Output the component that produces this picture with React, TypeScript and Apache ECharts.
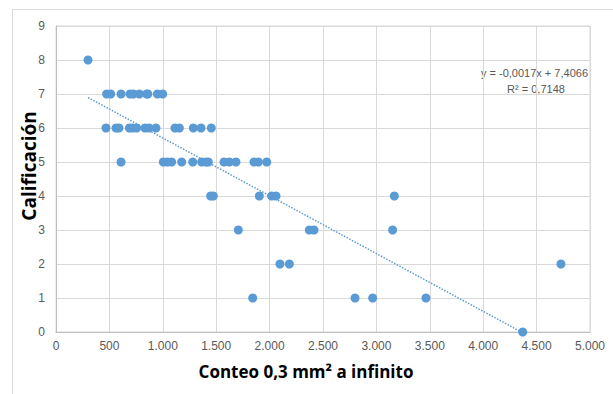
import React, { useEffect, useRef } from "react";
import * as echarts from "echarts";

// Conteo 0,3 mm² a infinito (x) vs Calificación (y)
const xValues: number[] = [
  300,
  474, 512, 609, 693, 724, 780, 849, 860, 949, 999,
  468, 562, 590, 687, 718, 755, 833, 871, 936, 1114, 1155, 1286, 1358, 1454,
  609, 1005, 1042, 1083, 1177, 1280, 1364, 1404, 1426, 1573, 1623, 1685, 1854, 1894, 1973,
  1448, 1473, 1904, 2019, 2060, 3168,
  1707, 2372, 2416, 3152,
  2097, 2185, 4728,
  1842, 2800, 2965, 3464,
  4370,
];
const yValues: number[] = [
  8,
  7, 7, 7, 7, 7, 7, 7, 7, 7, 7,
  6, 6, 6, 6, 6, 6, 6, 6, 6, 6, 6, 6, 6, 6,
  5, 5, 5, 5, 5, 5, 5, 5, 5, 5, 5, 5, 5, 5, 5,
  4, 4, 4, 4, 4, 4,
  3, 3, 3, 3,
  2, 2, 2,
  1, 1, 1, 1,
  0,
];
// Linear trendline coefficients shown on the chart
const slope = -0.0017;
const intercept = 7.4066;
const xTicks = { min: 0, max: 5000, interval: 500 };
const yTicks = { min: 0, max: 9, interval: 1 };
const xTitle = "Conteo 0,3 mm² a infinito";
const yTitle = "Calificación";

export default function App() {
  const ref = useRef<HTMLDivElement>(null);
  useEffect(() => {
    if (!ref.current) return;
    const chart = echarts.init(ref.current, undefined, { renderer: "svg" });
    const points = xValues.map((x, i) => [x, yValues[i]]);
    const minX = Math.min(...xValues);
    const xAtZero = -intercept / slope;
    const trend = [
      [minX, intercept + slope * minX],
      [xAtZero, 0],
    ];
    const font = "'Liberation Sans Narrow', 'Arial Narrow', 'Liberation Sans', sans-serif";
    const titleFont = "'Open Sans', 'Liberation Sans', sans-serif";
    chart.setOption({
      animation: false,
      grid: {
        left: 56,
        top: 26,
        right: 23,
        bottom: 62,
        show: true,
        borderColor: "#D9D9D9",
        borderWidth: 1,
      },
      xAxis: {
        type: "value",
        min: xTicks.min,
        max: xTicks.max,
        interval: xTicks.interval,
        axisLine: { show: true, lineStyle: { color: "#BFBFBF" } },
        axisTick: { show: false },
        splitLine: { show: true, lineStyle: { color: "#D9D9D9" } },
        axisLabel: {
          color: "#595959",
          fontSize: 12,
          fontFamily: font,
          margin: 8,
          formatter: (v: number) =>
            v >= 1000 ? `${Math.floor(v / 1000)}.${String(v % 1000).padStart(3, "0")}` : String(v),
        },
      },
      yAxis: {
        type: "value",
        min: yTicks.min,
        max: yTicks.max,
        interval: yTicks.interval,
        axisLine: { show: true, lineStyle: { color: "#BFBFBF" } },
        axisTick: { show: false },
        splitLine: { show: true, lineStyle: { color: "#D9D9D9" } },
        axisLabel: {
          color: "#595959",
          fontSize: 12,
          fontFamily: font,
          margin: 11,
        },
      },
      series: [
        {
          type: "line",
          data: trend,
          symbol: "none",
          z: 1,
          clip: true,
          lineStyle: { color: "#5B9BD5", width: 1.5, type: [1.5, 1.5] },
        },
        {
          type: "scatter",
          data: points,
          symbol: "circle",
          symbolSize: 9,
          z: 2,
          itemStyle: { color: "#5B9BD5", opacity: 1 },
        },
      ],
      graphic: [
        {
          type: "line",
          shape: { x1: 12.5, y1: 9.5, x2: 613, y2: 9.5 },
          style: { stroke: "#D9D9D9", lineWidth: 1 },
        },
        {
          type: "line",
          shape: { x1: 12.5, y1: 9.5, x2: 12.5, y2: 394 },
          style: { stroke: "#D9D9D9", lineWidth: 1 },
        },
        {
          type: "text",
          x: 306,
          y: 371,
          style: {
            text: xTitle,
            fill: "#000000",
            fontSize: 17,
            fontWeight: "bold",
            fontFamily: titleFont,
            align: "center",
            verticalAlign: "middle",
          },
        },
        {
          type: "text",
          x: 29,
          y: 166,
          rotation: Math.PI / 2,
          style: {
            text: yTitle,
            fill: "#000000",
            fontSize: 19,
            fontWeight: "bold",
            fontFamily: titleFont,
            align: "center",
            verticalAlign: "middle",
          },
        },
        {
          type: "text",
          x: 588,
          y: 73,
          style: {
            text: "y = -0,0017x + 7,4066",
            fill: "#595959",
            fontSize: 11,
            fontFamily: font,
            align: "right",
            verticalAlign: "middle",
          },
        },
        {
          type: "text",
          x: 536,
          y: 89,
          style: {
            text: "R² = 0,7148",
            fill: "#595959",
            fontSize: 11,
            fontFamily: font,
            align: "center",
            verticalAlign: "middle",
          },
        },
      ],
    });
    return () => chart.dispose();
  }, []);
  return (
    <div
      ref={ref}
      style={{ position: "fixed", left: 0, top: 0, width: 613, height: 394, background: "#ffffff" }}
    />
  );
}
